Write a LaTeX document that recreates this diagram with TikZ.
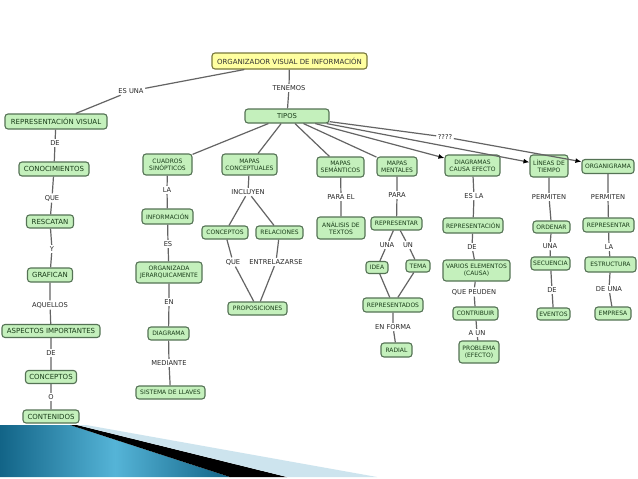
\documentclass[tikz,border=0pt]{standalone}
\usepackage{fontspec}
\setmainfont{DejaVu Sans}
\usetikzlibrary{arrows.meta}
\definecolor{boxfill}{RGB}{196,240,188}
\definecolor{boxdraw}{RGB}{85,115,85}
\definecolor{boxtext}{RGB}{25,60,25}
\definecolor{rootfill}{RGB}{255,255,160}
\definecolor{rootdraw}{RGB}{120,120,60}
\definecolor{linkgray}{RGB}{100,100,100}
\definecolor{lbltext}{RGB}{40,40,40}
\definecolor{tealdark}{RGB}{18,100,135}
\definecolor{teallight}{RGB}{85,180,215}
\definecolor{paleblue}{RGB}{205,228,238}
\tikzset{
  cbox/.style={draw=boxdraw, fill=boxfill, rounded corners=3pt, line width=1.1pt, inner sep=0pt,
    align=center, text=boxtext, font=\fontsize{6}{6.8}\selectfont},
  bigbox/.style={cbox, font=\fontsize{7}{8}\selectfont},
  rootbox/.style={cbox, draw=rootdraw, fill=rootfill, text=black!80, font=\fontsize{7}{8}\selectfont},
  sz/.style n args={2}{minimum width=#1pt, minimum height=#2pt},
  lbl/.style={inner sep=1.5pt, text=lbltext, font=\fontsize{6.7}{7.5}\selectfont},
  link/.style={draw=linkgray, line width=1.2pt},
  arr/.style={link, -{Latex[length=6pt,width=5pt,fill=black,color=black]}},
}
\begin{document}
\begin{tikzpicture}[x=1pt,y=-1pt]
\useasboundingbox (0,0) rectangle (638,479);
\fill[white] (0,0) rectangle (638,479);
% bottom decoration
\shade[left color=tealdark, right color=tealdark, middle color=teallight]
  (0,425) -- (70,425) -- (230,477) -- (0,477) -- cycle;
\fill[black] (70,425) -- (77,425) -- (287,477) -- (230,477) -- cycle;
\fill[paleblue] (77,425) -- (86,425) -- (377,477) -- (287,477) -- cycle;

% root and types
\node[rootbox, sz={155}{16}] (root) at (289.5,61) {ORGANIZADOR VISUAL DE INFORMACIÓN};
\node[lbl] (tenemos) at (289,88) {TENEMOS};
\node[cbox, sz={84}{14}, font=\fontsize{6.8}{7.6}\selectfont] (tipos) at (287,116) {TIPOS};
\node[lbl] (esuna) at (131,91) {ES UNA};

% left column
\node[bigbox, sz={102}{15}] (repvis) at (56,121.5) {REPRESENTACIÓN VISUAL};
\node[lbl] (l1) at (55,143) {DE};
\node[bigbox, sz={70}{14}] (conoc) at (54,169) {CONOCIMIENTOS};
\node[lbl] (l2) at (52,198) {QUE};
\node[bigbox, sz={47}{13}] (rescatan) at (50,221.5) {RESCATAN};
\node[lbl] (l3) at (52,249) {Y};
\node[bigbox, sz={45}{14}] (grafican) at (50,275) {GRAFICAN};
\node[lbl] (l4) at (50,305) {AQUELLOS};
\node[bigbox, sz={98}{13}] (aspectos) at (51,331) {ASPECTOS IMPORTANTES};
\node[lbl] (l5) at (51,353) {DE};
\node[bigbox, sz={51}{13}] (conceptosA) at (51,377) {CONCEPTOS};
\node[lbl] (l6) at (51,397) {O};
\node[bigbox, sz={56}{13}] (contenidos) at (51,416.5) {CONTENIDOS};

% cuadros sinopticos
\node[cbox, sz={49}{21}] (cuadros) at (167.5,164.5) {CUADROS\\SINÓPTICOS};
\node[lbl] (c1) at (167,190) {LA};
\node[cbox, sz={51}{15}] (informacion) at (167.5,216.5) {INFORMACIÓN};
\node[lbl] (c2) at (168,244) {ES};
\node[cbox, sz={66}{21}] (organizada) at (169,272.5) {ORGANIZADA\\JERARQUICAMENTE};
\node[lbl] (c3) at (169,302) {EN};
\node[cbox, sz={41}{13}] (diagrama) at (168.5,333.5) {DIAGRAMA};
\node[lbl] (c4) at (169,363) {MEDIANTE};
\node[cbox, sz={69}{13}] (sistema) at (170.5,392.5) {SISTEMA DE LLAVES};

% mapas conceptuales
\node[cbox, sz={55}{21}] (mapcon) at (249.5,164.5) {MAPAS\\CONCEPTUALES};
\node[lbl] (m1) at (248,192) {INCLUYEN};
\node[cbox, sz={46}{13}] (conceptosB) at (225,232.5) {CONCEPTOS};
\node[cbox, sz={47}{13}] (relaciones) at (279.5,232.5) {RELACIONES};
\node[lbl] (m2) at (233,262) {QUE};
\node[lbl] (m3) at (276,262) {ENTRELAZARSE};
\node[cbox, sz={59}{13}] (proposiciones) at (257.5,308.5) {PROPOSICIONES};

% mapas semanticos
\node[cbox, sz={47}{20}] (mapsem) at (340.5,167) {MAPAS\\SEMÁNTICOS};
\node[lbl] (s1) at (341,197) {PARA EL};
\node[cbox, sz={48}{22}] (analisis) at (341,228) {ANÁLISIS DE\\TEXTOS};

% mapas mentales
\node[cbox, sz={40}{19}] (mapmen) at (397,166.5) {MAPAS\\MENTALES};
\node[lbl] (n1) at (397,195) {PARA};
\node[cbox, sz={51}{13}] (representarA) at (396.5,223.5) {REPRESENTAR};
\node[lbl] (n2) at (387,245) {UNA};
\node[lbl] (n3) at (408,245) {UN};
\node[cbox, sz={22}{12}] (idea) at (377,267.5) {IDEA};
\node[cbox, sz={24}{12}] (tema) at (418,266) {TEMA};
\node[cbox, sz={60}{14}] (representados) at (393,305) {REPRESENTADOS};
\node[lbl] (n4) at (393,327) {EN FORMA};
\node[cbox, sz={31}{14}] (radial) at (396.5,350) {RADIAL};

% diagramas causa efecto
\node[cbox, sz={55}{21}] (diagce) at (472.5,165.5) {DIAGRAMAS\\CAUSA EFECTO};
\node[lbl] (d1) at (474,196) {ES LA};
\node[cbox, sz={60}{15}] (representacion) at (473,225.5) {REPRESENTACIÓN};
\node[lbl] (d2) at (472,247) {DE};
\node[cbox, sz={67}{21}] (varios) at (476.5,270.5) {VARIOS ELEMENTOS\\(CAUSA)};
\node[lbl] (d3) at (474,292) {QUE PEUDEN};
\node[cbox, sz={45}{13}] (contribuir) at (475.5,313.5) {CONTRIBUIR};
\node[lbl] (d4) at (477,333) {A UN};
\node[cbox, sz={40}{22}] (problema) at (479,352) {PROBLEMA\\(EFECTO)};

% lineas de tiempo
\node[cbox, sz={38}{22}] (lineas) at (549,166) {LÍNEAS DE\\TIEMPO};
\node[lbl] (t1) at (549,197) {PERMITEN};
\node[cbox, sz={37}{12}] (ordenar) at (551.5,227) {ORDENAR};
\node[lbl] (t2) at (550,246) {UNA};
\node[cbox, sz={39}{13}] (secuencia) at (550.5,263.5) {SECUENCIA};
\node[lbl] (t3) at (552,290) {DE};
\node[cbox, sz={33}{12}] (eventos) at (553.5,314) {EVENTOS};

% organigrama
\node[cbox, sz={52}{14}] (organigrama) at (608,166.5) {ORGANIGRAMA};
\node[lbl] (o1) at (608,197) {PERMITEN};
\node[cbox, sz={51}{14}] (representarB) at (608.5,225) {REPRESENTAR};
\node[lbl] (o2) at (609,247) {LA};
\node[cbox, sz={51}{15}] (estructura) at (610.5,264.5) {ESTRUCTURA};
\node[lbl] (o3) at (609,289) {DE UNA};
\node[cbox, sz={36}{13}] (empresa) at (613,313.5) {EMPRESA};

\node[lbl] (q) at (445,137) {????};

% connectors
\path[link] (root) -- (tenemos) -- (tipos);
\path[link] (root) -- (esuna) -- (repvis);
\path[link] (repvis) -- (l1) -- (conoc) -- (l2) -- (rescatan) -- (l3) -- (grafican) -- (l4) -- (aspectos) -- (l5) -- (conceptosA) -- (l6) -- (contenidos);
\path[link] (tipos) -- (cuadros);
\path[link] (tipos) -- (mapcon);
\path[link] (tipos) -- (mapsem);
\path[link] (tipos) -- (mapmen);
\path[arr] (tipos) -- (diagce);
\path[arr] (tipos) -- (lineas);
\path[link] (tipos) -- (q);
\path[arr] (q) -- (organigrama);
\path[link] (cuadros) -- (c1) -- (informacion) -- (c2) -- (organizada) -- (c3) -- (diagrama) -- (c4) -- (sistema);
\path[link] (mapcon) -- (m1);
\path[link] (m1) -- (conceptosB);
\path[link] (m1) -- (relaciones);
\path[link] (conceptosB) -- (m2) -- (proposiciones);
\path[link] (relaciones) -- (m3) -- (proposiciones);
\path[link] (mapsem) -- (s1) -- (analisis);
\path[link] (mapmen) -- (n1) -- (representarA);
\path[link] (representarA) -- (n2) -- (idea);
\path[link] (representarA) -- (n3) -- (tema);
\path[link] (idea) -- (representados);
\path[link] (tema) -- (representados);
\path[link] (representados) -- (n4) -- (radial);
\path[link] (diagce) -- (d1) -- (representacion) -- (d2) -- (varios) -- (d3) -- (contribuir) -- (d4) -- (problema);
\path[link] (lineas) -- (t1) -- (ordenar) -- (t2) -- (secuencia) -- (t3) -- (eventos);
\path[link] (organigrama) -- (o1) -- (representarB) -- (o2) -- (estructura) -- (o3) -- (empresa);
\end{tikzpicture}
\end{document}
